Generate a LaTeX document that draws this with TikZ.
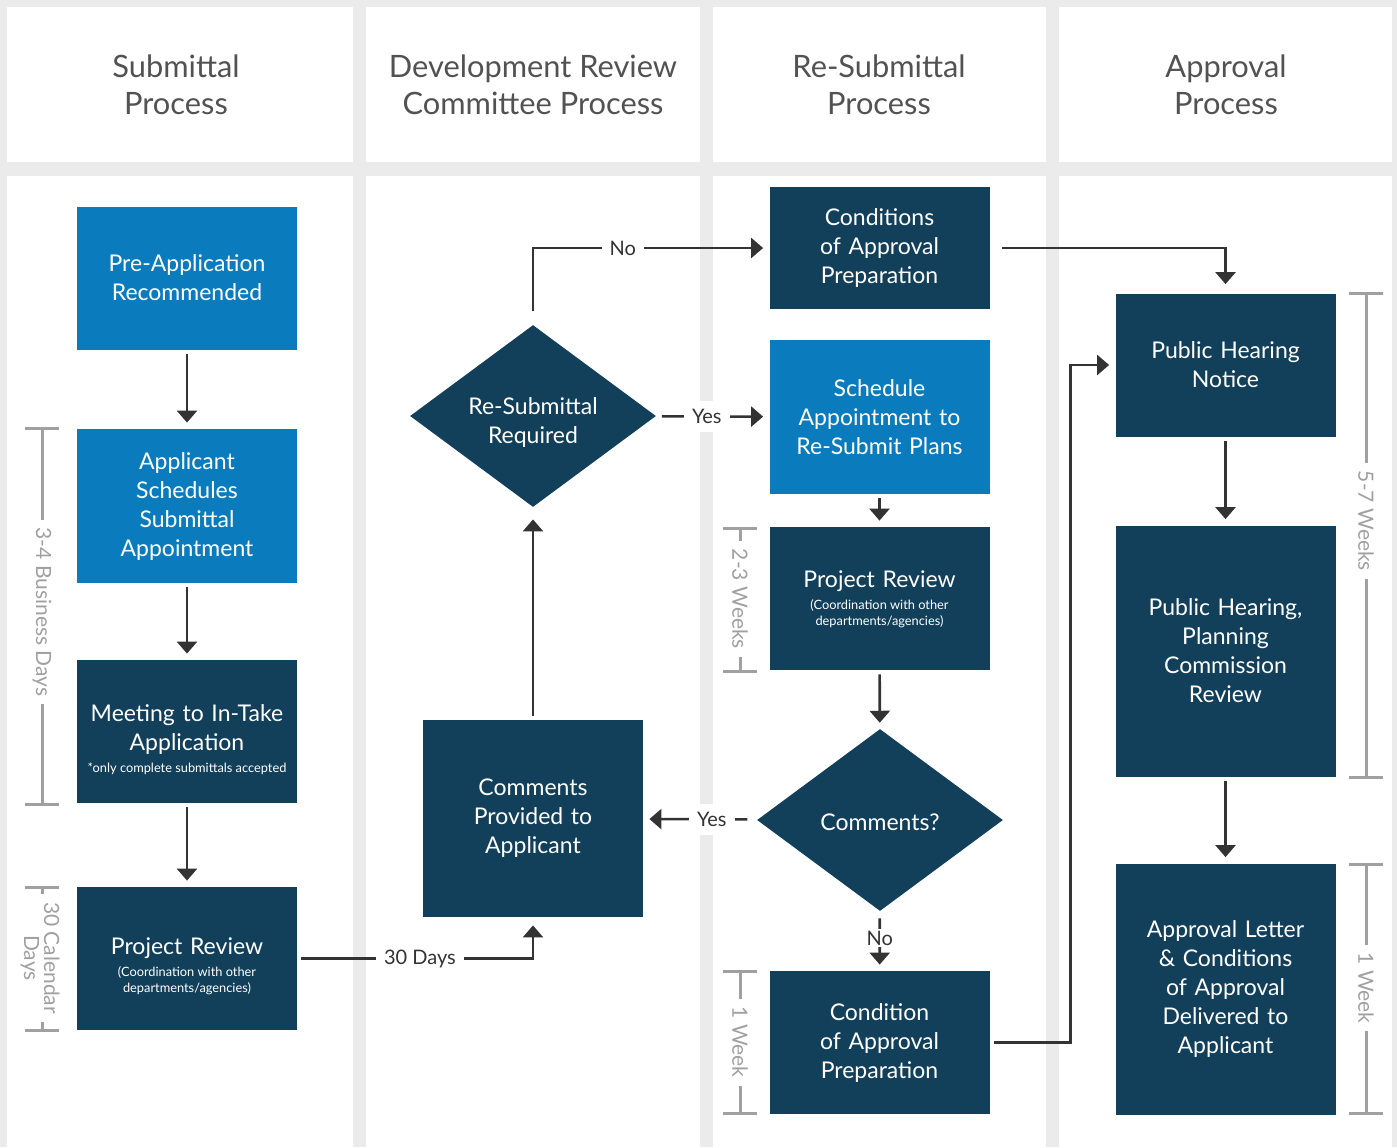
\documentclass[tikz,border=0pt]{standalone}
\usepackage{fontspec}
\setmainfont{Lato}
\usepackage{tikz}
\usetikzlibrary{shapes.geometric,arrows.meta}
\definecolor{navy}{HTML}{12405A}
\definecolor{sky}{HTML}{0A7CBD}
\definecolor{panel}{HTML}{EBEBEB}
\definecolor{ink}{HTML}{333333}
\definecolor{rule}{HTML}{A0A0A0}
\newcommand\boxnote[2][-8pt]{\par\vspace{3pt}{\centering\spaceskip=0pt\xspaceskip=0pt\fontsize{6.4}{8}\selectfont #2\par}\vspace{#1}}

\begin{document}
\begin{tikzpicture}[x=0.5pt, y=-0.5pt,
    main/.style = {fill=navy, text=white, inner sep=0pt, minimum width=110pt, minimum height=71.5pt, text width=108pt, align=center, font=\fontsize{11.5}{14.5}\selectfont},
    light/.style = {main, fill=sky},
    dec/.style = {diamond, fill=navy, inner sep=0pt, minimum width=123pt, minimum height=91pt},
    dectext/.style = {text=white, align=center, font=\fontsize{11.5}{14.5}\selectfont},
    head/.style = {text=ink!85, align=center, font=\fontsize{15.4}{18.5}\selectfont},
    arr/.style = {draw=ink, line width=1.3pt, -{Triangle[width=10pt,length=6pt]}, shorten <=2pt, shorten >=3pt},
    lbl/.style = {fill=white, text=ink, inner sep=4pt, font=\fontsize{10}{12}\selectfont},
    span/.style = {draw=rule, line width=1.5pt},
    spanlbl/.style = {fill=white, text=rule, rotate=-90, inner sep=4pt, align=center, font=\fontsize{10.5}{10}\selectfont}]

    \useasboundingbox (0,0) rectangle (1397,1147);
    \fill[panel] (0,0) rectangle (1397,1147);
    \foreach \a/\b in {7/353, 366/700, 713/1046, 1059/1392} {
        \fill[white] (\a,7) rectangle (\b,162);
        \fill[white] (\a,176) rectangle (\b,1147);
    }

    \node[head] (h1) at (176,85) {Submittal\\Process};
    \node[head] (h2) at (533,85) {Development Review\\Committee Process};
    \node[head] (h3) at (879,85) {Re-Submittal\\Process};
    \node[head] (h4) at (1226,85) {Approval\\Process};

    \node[light] (1) at (187,278) {Pre-Application\\Recommended};
    \node[light, minimum height=77pt] (2) at (187,506) {Applicant\\Schedules\\Submittal\\Appointment};
    \node[main] (3) at (187,731.5) {Meeting to In-Take\\Application\boxnote{*only complete submittals accepted}};
    \node[main] (4) at (187,958.5) {Project Review\boxnote{(Coordination with other\\departments/agencies)}};
    \node[main, minimum height=98.5pt] (5) at (533,818.5) {Comments\\Provided to\\Applicant};
    \node[dec, label={[dectext, yshift=-3pt]center:Re-Submittal\\Required}] (6) at (533,416) {};
    \node[main, minimum height=61pt] (7) at (879.5,248) {Conditions\\of Approval\\Preparation};
    \node[light, minimum height=77pt] (8) at (879.5,417) {Schedule\\Appointment to\\Re-Submit Plans};
    \node[main] (9) at (879.5,598.5) {Project Review\boxnote[-1pt]{(Coordination with other\\departments/agencies)}};
    \node[dec, label={[dectext, yshift=-1pt]center:Comments?}] (10) at (880,820) {};
    \node[main] (11) at (879.5,1042.5) {Condition\\of Approval\\Preparation};
    \node[main] (12) at (1225.5,365) {Public Hearing\\Notice};
    \node[main, minimum height=125.5pt] (13) at (1225.5,651) {Public Hearing,\\Planning\\Commission\\Review};
    \node[main, minimum height=125.5pt] (14) at (1225.5,989) {Approval Letter\\\& Conditions\\of Approval\\Delivered to\\Applicant};

    \draw[arr] (1) -- (2);
    \draw[arr] (2) -- (3);
    \draw[arr] (3) -- (4);
    \draw[arr, shorten >=4pt] (4.east) -| (5.south) node[lbl, pos=0.26] {30 Days};
    \draw[arr, shorten >=6pt] (5) -- (6);
    \draw[arr, shorten <=7pt] (6.north) |- (7.west) node[lbl, pos=0.69] {No};
    \draw[arr, shorten <=3pt] (6) -- (8) node[lbl, pos=0.45] {Yes};
    \draw[arr] (8) -- (9);
    \draw[arr] (9) -- (10);
    \draw[arr, shorten <=5pt] (10) -- (5) node[lbl, pos=0.4] {Yes};
    \draw[arr, shorten <=3.5pt] (10) -- (11) node[lbl, inner sep=1pt, pos=0.45] {No};
    \draw[arr] (11.east) -- ++(40.25pt,0) |- (12.west);
    \draw[arr, shorten <=6pt, shorten >=4.5pt] (7.east) -| (12.north);
    \draw[arr] (12) -- (13);
    \draw[arr] (13) -- (14);

    \foreach \x/\t/\b in {42/428/804, 42/887/1030, 740/528/671, 740/971/1113, 1366/293/777, 1366/864/1113} {
        \draw[span] (\x-17,\t) -- (\x+17,\t) (\x,\t) -- (\x,\b) (\x-17,\b) -- (\x+17,\b);
    }
    \node[spanlbl] (s1) at (42,612) {3-4 Business Days};
    \node[spanlbl] (s2) at (40,958) {30 Calendar\\Days};
    \node[spanlbl] (s3) at (740,599) {2-3 Weeks};
    \node[spanlbl] (s4) at (740,1042) {1 Week};
    \node[spanlbl] (s5) at (1366,521) {5-7 Weeks};
    \node[spanlbl] (s6) at (1366,988) {1 Week};
\end{tikzpicture}
\end{document}
